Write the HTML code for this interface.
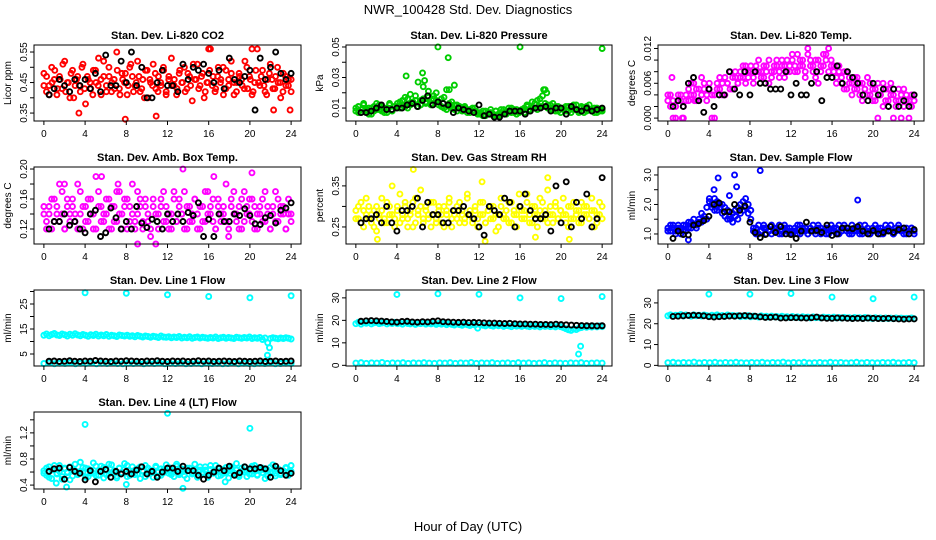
<!DOCTYPE html>
<html><head><meta charset="utf-8"><style>
html,body{margin:0;padding:0;background:#fff}
svg{display:block;font-family:"Liberation Sans",sans-serif}
</style></head><body>
<svg id="chart" width="936" height="540" viewBox="0 0 936 540" xmlns="http://www.w3.org/2000/svg">
<rect width="936" height="540" fill="#fff"/>
<text x="468" y="14" font-size="13" text-anchor="middle">NWR_100428  Std. Dev. Diagnostics</text>
<text x="468" y="531" font-size="13" text-anchor="middle">Hour of Day (UTC)</text>
</svg>
<script>
// ---- data ----
const co2A=[.48,.42,.44,.50,.46,.41,.47,.43,.52,.45,.40,.49,.44,.47,.42,.51,.38,.46,.43,.49,.45,.53,.41,.47,.44,.50,.42,.46,.55,.43,.48,.45,.41,.50,.47,.44,.52,.42,.46,.49,.40,.45,.51,.43,.47,.44,.49,.42,.46,.53,.44,.41,.48,.45,.50,.43,.47,.39,.46,.51,.44,.48,.42,.45,.56,.47,.43,.50,.46,.41,.49,.44,.52,.45,.42,.48,.46,.43,.50,.47,.41,.45,.56,.44,.49,.42,.46,.51,.43,.47,.45,.40,.48,.44,.46,.42];
const co2B=[.44,.47,.41,.45,.49,.43,.46,.51,.42,.45,.48,.40,.46,.44,.50,.43,.47,.45,.41,.49,.44,.46,.52,.42,.47,.45,.43,.49,.41,.46,.48,.44,.51,.42,.45,.47,.43,.40,.49,.46,.44,.48,.42,.45,.50,.41,.47,.44,.46,.43,.49,.45,.42,.48,.44,.51,.46,.43,.47,.40,.45,.49,.44,.42,.47,.45,.50,.43,.46,.48,.41,.45,.47,.44,.52,.43,.46,.42,.49,.45,.47,.44,.41,.48,.46,.43,.50,.45,.42,.47,.44,.46];
const co2OutH=[3.4,7.9,10.9,16,20.2,22.3,23.9];
const co2OutV=[.35,.33,.34,.56,.56,.36,.36];
const co2K=[.41,.43,.46,.44,.42,.46,.44,.46,.43,.48,.42,.54,.44,.44,.52,.45,.55,.44,.50,.40,.40,.45,.49,.44,.44,.42,.51,.46,.50,.49,.51,.48,.45,.49,.43,.53,.46,.45,.47,.49,.36,.53,.46,.50,.55,.48,.46,.48];

const presA=[.008,.011,.007,.012,.009,.006,.010,.008,.013,.009,.011,.007,.010,.012,.008,.011,.013,.010,.015,.011,.016,.012,.014,.018,.011,.015,.024,.013,.017,.012,.016,.020,.014,.011,.017,.009,.013,.010,.012,.008,.011,.009,.010,.007,.009,.008,.010,.006,.007,.005,.008,.006,.007,.005,.008,.006,.009,.007,.008,.010,.007,.009,.006,.008,.009,.007,.011,.008,.010,.013,.009,.016,.011,.022,.012,.009,.013,.008,.011,.007,.010,.008,.011,.007,.009,.012,.008,.010,.007,.011,.009,.008,.010,.007,.009,.008];
const presB=[.010,.007,.009,.013,.008,.010,.006,.011,.009,.012,.008,.010,.007,.013,.009,.011,.011,.014,.012,.017,.010,.019,.013,.015,.027,.012,.016,.014,.021,.013,.018,.015,.012,.016,.010,.022,.011,.014,.009,.012,.010,.008,.011,.009,.007,.010,.008,.007,.006,.008,.005,.007,.009,.006,.008,.005,.007,.009,.006,.008,.010,.007,.009,.007,.008,.010,.012,.009,.014,.010,.015,.011,.018,.013,.010,.012,.009,.011,.008,.010,.009,.011,.008,.010,.012,.009,.007,.011,.010,.008,.012,.009,.007,.010,.008,.009];
const presOutH=[8,9,16,24,4.9,6.5,6.7,9.6,9.1,18.3,18.6];
const presOutV=[.05,.043,.05,.049,.031,.033,.028,.025,.022,.022,.020];
const presK=[.007,.007,.008,.010,.012,.009,.009,.010,.010,.012,.013,.011,.015,.018,.012,.014,.013,.012,.007,.010,.009,.008,.007,.012,.005,.006,.004,.004,.006,.008,.008,.008,.006,.008,.010,.010,.011,.008,.010,.010,.006,.011,.009,.008,.010,.008,.009,.010];

const tempA=[.003,.004,0,.002,.003,.004,0,.003,.005,.004,.006,.003,.005,.004,.006,.003,.005,0,.004,.006,.005,.004,.007,.006,.005,.007,.008,.006,.007,.009,.006,.008,.009,.007,.008,.010,.008,.007,.009,.006,.008,.009,.010,.008,.009,.007,.010,.008,.011,.009,.008,.010,.009,.007,.011,.009,.008,.010,.006,.009,.011,.010,.012,.009,.008,.007,.009,.006,.008,.005,.007,.006,.005,.007,.004,.006,.005,.004,.006,.003,.005,0,.004,.006,.003,.005,.004,0,.003,.005,.004,.002,.003,0,.004,.003];
const tempB=[.004,.002,.003,0,.004,.003,.002,.004,.003,.006,.004,.005,.003,.007,.005,.004,.006,.004,0,.005,.007,.006,.004,.006,.008,.005,.007,.006,.008,.007,.009,.007,.008,.006,.009,.008,.007,.009,.008,.010,.007,.008,.009,.007,.010,.009,.008,.009,.010,.008,.011,.009,.010,.008,.012,.010,.009,.007,.010,.008,.009,.011,.008,.010,.009,.006,.008,.007,.005,.008,.006,.004,.007,.005,.006,.003,.005,.007,.004,.005,.003,.006,.004,.002,.005,.003,.006,.004,.002,.003,0,.005,.004,.003,.002,.004];
const tempOutH=[.4,1.4,2.6];
const tempOutV=[.007,0,.003];
const tempK=[.002,.003,.002,.006,.007,.003,.001,.005,.002,.004,.004,.008,.005,.004,.008,.004,.008,.006,.006,.005,.005,.005,.008,.004,.006,.004,.004,.006,.008,.003,.007,.007,.009,.006,.008,.007,.006,.004,.003,.006,.004,.005,.002,.005,.002,.003,.002,.004];

const ambA=[.14,.13,.15,.12,.16,.14,.13,.17,.12,.15,.14,.16,.13,.18,.14,.12,.15,.13,.16,.14,.12,.17,.15,.13,.14,.16,.12,.15,.13,.17,.14,.16,.12,.15,.18,.13,.14,.16,.12,.15,.13,.11,.16,.14,.12,.15,.17,.13,.14,.12,.16,.13,.15,.14,.17,.12,.15,.13,.16,.14,.12,.15,.13,.17,.14,.16,.12,.15,.13,.14,.18,.12,.16,.14,.13,.15,.12,.17,.14,.16,.13,.15,.12,.14,.16,.13,.15,.12,.14,.17,.13,.15,.14,.12,.16,.14];
const ambB=[.15,.12,.14,.16,.13,.15,.18,.14,.12,.16,.13,.15,.14,.12,.17,.15,.13,.16,.14,.12,.19,.15,.13,.14,.16,.12,.15,.13,.17,.14,.12,.15,.16,.13,.14,.12,.17,.15,.13,.16,.14,.12,.15,.10,.14,.16,.13,.15,.12,.14,.17,.13,.16,.14,.12,.15,.13,.14,.16,.12,.15,.13,.17,.14,.15,.13,.12,.16,.14,.15,.13,.11,.15,.17,.14,.12,.16,.13,.15,.14,.16,.12,.14,.15,.13,.17,.14,.12,.15,.13,.16,.14,.15,.12,.14,.13];
const ambOutH=[2,5.6,13.5,16.5,20.2,7.2,9.1];
const ambOutV=[.18,.19,.2,.19,.195,.18,.10];
const ambK=[.12,.13,.13,.14,.125,.13,.12,.115,.14,.145,.11,.115,.148,.135,.12,.13,.12,.15,.128,.122,.133,.13,.12,.14,.13,.14,.13,.142,.138,.155,.11,.133,.11,.14,.13,.13,.14,.138,.147,.138,.127,.126,.135,.138,.128,.145,.148,.155];

const rhA=[.29,.27,.31,.25,.28,.30,.26,.29,.24,.28,.32,.27,.26,.30,.28,.25,.29,.33,.27,.30,.25,.28,.31,.26,.29,.34,.27,.30,.28,.25,.31,.27,.29,.26,.30,.28,.32,.25,.29,.27,.31,.28,.26,.33,.29,.27,.30,.25,.28,.31,.26,.29,.27,.30,.24,.28,.32,.27,.29,.26,.31,.28,.25,.30,.27,.29,.33,.26,.30,.28,.25,.29,.31,.27,.34,.28,.26,.30,.27,.29,.32,.28,.25,.30,.27,.29,.26,.31,.28,.30,.27,.29,.25,.28,.31,.27];
const rhB=[.27,.30,.26,.29,.32,.27,.28,.25,.30,.27,.29,.26,.31,.28,.35,.27,.30,.26,.28,.31,.27,.29,.25,.32,.28,.30,.26,.29,.27,.31,.28,.26,.30,.28,.25,.29,.31,.27,.28,.30,.26,.29,.27,.32,.28,.26,.29,.27,.31,.28,.26,.29,.30,.27,.28,.25,.30,.28,.27,.31,.26,.29,.28,.33,.29,.27,.31,.28,.26,.30,.28,.32,.27,.29,.26,.30,.28,.31,.27,.29,.28,.26,.30,.27,.31,.28,.29,.26,.30,.28,.27,.32,.29,.26,.28,.30];
const rhOutH=[5.6,12.3,18.7,2.1,20.8,12.6,17.5];
const rhOutV=[.39,.36,.37,.22,.22,.215,.225];
const rhK=[.26,.27,.27,.28,.26,.30,.26,.24,.29,.29,.30,.32,.25,.31,.28,.28,.26,.26,.29,.29,.30,.28,.27,.25,.23,.30,.29,.28,.32,.31,.25,.30,.33,.29,.27,.27,.28,.24,.35,.26,.36,.25,.31,.27,.33,.25,.27,.37];

const sfA=[1.2,1.1,1.3,1.1,1.2,1.0,1.3,1.1,1.2,1.4,1.3,1.2,1.5,1.4,1.6,1.5,2.1,1.9,2.2,1.8,2.0,1.7,1.9,1.5,1.6,1.4,1.8,1.5,1.7,2.1,1.9,2.0,1.8,1.2,1.0,1.3,1.1,1.2,1.0,1.1,1.3,1.1,1.2,1.0,1.1,1.3,1.2,1.0,1.1,1.2,1.0,1.3,1.1,1.2,1.0,1.1,1.3,1.1,1.2,1.0,1.1,1.2,1.0,1.3,1.1,1.2,1.0,1.1,1.3,1.2,1.1,1.0,1.2,1.1,1.3,1.0,1.1,1.2,1.0,1.1,1.3,1.1,1.2,1.0,1.1,1.2,1.3,1.0,1.1,1.2,1.1,1.0,1.2,1.1,1.2,1.0];
const sfB=[1.1,1.3,1.2,1.0,1.3,1.2,1.1,1.3,1.4,1.2,1.5,1.3,1.4,1.7,1.5,1.9,2.2,2.0,1.8,2.1,1.9,2.0,1.6,1.8,1.5,1.7,1.6,1.9,2.0,1.8,2.2,1.7,1.5,1.1,1.2,1.0,1.1,1.3,1.2,1.1,1.0,1.2,1.1,1.3,1.0,1.2,1.1,1.2,1.0,1.1,1.3,1.0,1.2,1.1,1.0,1.2,1.1,1.0,1.3,1.2,1.1,1.0,1.2,1.1,1.2,1.0,1.3,1.1,1.2,1.1,1.0,1.3,1.1,1.2,1.0,1.1,1.3,1.1,1.0,1.2,1.1,1.2,1.0,1.1,1.3,1.2,1.1,1.0,1.2,1.3,1.1,1.2,1.0,1.1,1.2,1.1];
const sfOutH=[4.5,4.9,6.5,6.7,6.0,9.0,18.5,2.0];
const sfOutV=[2.5,2.9,3.0,2.6,2.3,3.15,2.15,0.8];
const sfK=[0.85,1.1,0.98,0.97,1.3,1.35,1.45,1.6,2.0,2.05,1.75,1.75,2.0,1.8,1.95,1.4,1.05,0.88,0.98,1.25,1.05,1.25,1.0,0.98,0.85,1.1,1.4,1.1,1.12,1.05,1.3,0.95,1.0,1.2,1.2,1.18,1.25,1.1,1.0,1.12,1.0,1.05,1.1,1.05,1.15,1.2,1.0,1.15];

const l1Hi=[12.5,13,12.3,12.8,13.2,12.6,12.4,13,12.7,12.2,12.9,12.5,13.1,12.6,12.3,12.8,12.5,12.1,12.7,12.4,12.9,12.2,12.6,12.3,12.8,12.1,12.5,12.3,12,12.6,12.4,12.2,12.5,12.1,12.3,11.9,12.4,12.1,11.8,12.2,12,11.7,12.1,11.9,11.6,12.2,11.8,11.7,11.9,11.5,11.8,11.6,12,11.4,11.7,11.5,11.9,11.3,11.6,11.8,11.4,11.7,11.5,11.3,11.6,11.4,11.8,11.2,11.5,11.7,11.3,11.6,11.4,11.2,11.7,11.5,11.3,11.6,11.4,11.8,11.2,11.5,11.3,11.6,10.8,11.4,9.5,11.2,11.5,11.3,11.1,11.4,11.2,11.5,11.3,11];
const l1Lo=[1.2,1.4,1.1,1.3,1.2,1.5,1.1,1.3,1.2,1.4,1.1,1.3,1.2,1.4,1.2,1.1,1.3,1.2,1.4,1.1,1.3,1.2,1.5,1.1,1.3,1.2,1.4,1.1,1.2,1.3,1.1,1.4,1.2,1.3,1.1,1.2,1.4,1.1,1.3,1.2,1.1,1.3,1.2,1.4,1.1,1.2,1.3,1.2];
const l1OutH=[4,8,12,16,20,24,21.7,21.9];
const l1OutV=[29.5,29.3,28.7,28,27.5,28.3,4.5,7.5];
const l1K=[2.1,2.2,2.0,2.1,2.3,2.1,2.0,2.2,2.1,2.4,2.2,2.1,2.0,2.2,2.1,2.3,2.2,2.1,2.0,2.2,2.1,2.3,2.1,2.0,2.2,2.1,2.2,2.0,2.1,2.3,2.1,2.2,2.0,2.1,2.2,2.1,2.0,2.2,2.1,2.0,2.1,2.2,2.0,2.1,2.2,2.0,2.1,2.2];

const l2Hi=[18.5,19.2,18.3,19,18.7,19.3,18.4,18.9,19.1,18.5,18.8,19.2,18.4,18.9,18.6,19.1,18.5,18.8,18.3,19,18.6,18.4,18.9,18.2,18.7,18.5,18.9,18.3,18.7,18.4,18.8,18.2,18.6,18.3,18.7,18.1,18.5,18.2,17.9,18.4,18.1,17.8,18.3,18,17.7,18.2,17.9,16.5,18.1,17.8,17.5,18,17.7,17.4,17.9,17.6,17.8,17.3,17.7,17.5,17.2,17.8,17.4,17.6,17.3,17.7,17.4,17.2,17.6,17.3,17.5,17.1,17.6,17.3,17.5,17.2,17.4,17.1,17.5,17.2,16.8,16.3,15.8,15.5,16.2,15.9,16.5,16.8,17.2,16.9,17.3,17,17.4,17.1,17.5,17.2];
const l2Lo=[1.0,1.2,0.9,1.1,1.0,1.3,0.9,1.1,1.0,1.2,0.9,1.1,1.0,1.2,1.0,0.9,1.1,1.0,1.2,0.9,1.1,1.0,1.3,0.9,1.1,1.0,1.2,0.9,1.0,1.1,0.9,1.2,1.0,1.1,0.9,1.0,1.2,0.9,1.1,1.0,0.9,1.1,1.0,1.2,0.9,1.0,1.1,1.0];
const l2OutH=[4,8,12,16,20,24,21.7,21.9];
const l2OutV=[31.5,31.8,31.6,30,29.7,30.6,5,8.5];
const l2K=[19.6,19.8,19.9,19.8,19.7,19.5,19.3,19.2,19.5,19.6,19.3,19.2,19.4,19.3,19.6,19.8,19.4,19.3,19.2,19.1,19.2,19.0,19.1,19.0,18.9,18.8,18.8,18.7,18.6,18.7,18.5,18.4,18.4,18.3,18.3,18.2,18.2,18.1,18.3,18.1,18.0,17.9,17.8,17.7,17.6,17.6,17.5,17.6];

const l3Hi=[23.8,24.3,23.6,24.1,23.9,24.4,23.7,24.2,24,23.6,24.3,23.8,24.1,23.7,24.2,23.9,23.6,24.1,23.8,24.3,23.7,24,23.5,24.2,23.8,24,23.6,23.9,23.4,23.8,23.5,23.9,23.3,23.7,23.5,23.2,23.8,23.4,23.6,23.2,23.7,23.3,23.5,23.1,23.6,23.2,23.4,23,23.5,23.1,23.3,22.9,23.4,23,23.2,22.8,23.3,22.9,23.1,22.8,23.2,22.9,23.1,22.7,23.2,22.8,23,22.7,23.1,22.8,22.9,22.6,23,22.7,22.9,22.6,23,22.7,22.8,22.5,22.9,22.6,22.8,22.4,22.8,22.5,22.7,22.4,22.8,22.5,22.7,22.4,22.6,22.5,22.8,22.4];
const l3Lo=[1.3,1.5,1.2,1.4,1.3,1.6,1.2,1.4,1.3,1.5,1.2,1.4,1.3,1.5,1.3,1.2,1.4,1.3,1.5,1.2,1.4,1.3,1.6,1.2,1.4,1.3,1.5,1.2,1.3,1.4,1.2,1.5,1.3,1.4,1.2,1.3,1.5,1.2,1.4,1.3,1.2,1.4,1.3,1.5,1.2,1.3,1.4,1.3];
const l3OutH=[4,8,12,16,20,24];
const l3OutV=[34.2,34.2,34.5,32.8,32,32.8];
const l3K=[23.5,23.6,23.8,24.0,24.1,24.0,23.8,23.4,23.2,23.4,23.5,23.7,23.6,23.8,23.9,23.7,23.6,23.3,23.0,23.1,23.2,22.7,22.8,22.9,22.9,22.8,22.7,22.9,23.2,22.8,22.6,22.6,22.8,22.7,22.6,22.5,22.6,22.5,22.7,22.6,22.5,22.5,22.6,22.4,22.3,22.2,22.3,22.3];

const l4A=[.62,.55,.68,.50,.64,.58,.70,.53,.66,.60,.48,.63,.72,.56,.61,.67,.52,.65,.58,.74,.55,.62,.69,.51,.64,.57,.71,.60,.54,.66,.59,.73,.53,.62,.68,.56,.65,.50,.61,.70,.57,.63,.52,.67,.60,.55,.64,.71,.58,.62,.53,.69,.56,.65,.61,.50,.66,.59,.72,.55,.63,.57,.68,.52,.64,.60,.70,.54,.62,.58,.67,.51,.65,.59,.73,.56,.61,.68,.53,.64,.57,.70,.55,.62,.66,.50,.63,.59,.71,.54,.65,.58,.61,.67,.55,.70];
const l4B=[.58,.66,.52,.63,.70,.57,.61,.49,.65,.59,.68,.54,.62,.57,.75,.60,.66,.53,.63,.58,.69,.55,.61,.67,.56,.72,.59,.62,.51,.66,.58,.64,.70,.55,.60,.63,.57,.68,.62,.53,.66,.58,.61,.69,.54,.65,.59,.62,.67,.56,.63,.72,.58,.60,.55,.66,.62,.57,.64,.52,.68,.60,.63,.56,.70,.58,.61,.66,.55,.64,.59,.62,.68,.57,.63,.53,.66,.60,.62,.57,.69,.61,.56,.65,.59,.63,.54,.67,.60,.58,.64,.56,.62,.66,.59,.61];
const l4OutH=[4,12,20,2.2,13.5,1.2,8,17.6];
const l4OutV=[1.33,1.5,1.27,0.37,0.35,0.43,0.41,0.45];
const l4K=[.61,.65,.66,.49,.67,.61,.58,.48,.62,.45,.61,.64,.52,.61,.57,.61,.57,.63,.68,.57,.61,.52,.60,.66,.66,.61,.69,.62,.62,.55,.49,.55,.60,.66,.62,.69,.55,.59,.68,.65,.65,.67,.65,.52,.69,.62,.55,.58];

// ---- layout ----
const COLS=[[34,301],[346,612],[658,924]];
const ROWS=[[45,121],[167,244],[290,366],[412,489]];
const panels=[
 {name:'co2',title:'Stan. Dev. Li-820 CO2',yl:'Licor ppm',c:0,r:0,dom:[0.324,0.573],ticks:[.35,.40,.45,.50,.55],labs:[.35,.45,.55],dec:2,col:'#ff0000',series:[co2A,co2B],outH:co2OutH,outV:co2OutV,k:co2K},
 {name:'pressure',title:'Stan. Dev. Li-820 Pressure',yl:'kPa',c:1,r:0,dom:[0.0015,0.0513],ticks:[.01,.02,.03,.04,.05],labs:[.01,.03,.05],dec:2,col:'#00cd00',series:[presA,presB],outH:presOutH,outV:presOutV,k:presK},
 {name:'li820-temp',title:'Stan. Dev. Li-820 Temp.',yl:'degrees C',c:2,r:0,dom:[-0.0005,0.0126],ticks:[0,.002,.004,.006,.008,.010,.012],labs:[0,.006,.012],dec:3,col:'#ff00ff',series:[tempA,tempB],outH:tempOutH,outV:tempOutV,k:tempK},
 {name:'amb-box-temp',title:'Stan. Dev. Amb. Box Temp.',yl:'degrees C',c:0,r:1,dom:[0.10,0.2027],ticks:[.12,.14,.16,.18,.20],labs:[.12,.16,.20],dec:2,col:'#ff00ff',series:[ambA,ambB],outH:ambOutH,outV:ambOutV,k:ambK},
 {name:'gas-stream-rh',title:'Stan. Dev. Gas Stream RH',yl:'percent',c:1,r:1,dom:[0.2085,0.396],ticks:[.25,.30,.35],labs:[.25,.35],dec:2,col:'#ffff00',series:[rhA,rhB],outH:rhOutH,outV:rhOutV,k:rhK},
 {name:'sample-flow',title:'Stan. Dev. Sample Flow',yl:'ml/min',c:2,r:1,dom:[0.66,3.27],ticks:[1,1.5,2,2.5,3],labs:[1,2,3],dec:1,col:'#0000ff',series:[sfA,sfB],outH:sfOutH,outV:sfOutV,k:sfK},
 {name:'line1-flow',title:'Stan. Dev. Line 1 Flow',yl:'ml/min',c:0,r:2,dom:[0.2,30.6],ticks:[5,10,15,20,25,30],labs:[5,15,25],dec:0,col:'#00ffff',series:[l1Hi,l1Lo],outH:l1OutH,outV:l1OutV,k:l1K},
 {name:'line2-flow',title:'Stan. Dev. Line 2 Flow',yl:'ml/min',c:1,r:2,dom:[-0.3,33.5],ticks:[0,10,20,30],labs:[0,10,20,30],dec:0,col:'#00ffff',series:[l2Hi,l2Lo],outH:l2OutH,outV:l2OutV,k:l2K},
 {name:'line3-flow',title:'Stan. Dev. Line 3 Flow',yl:'ml/min',c:2,r:2,dom:[-0.3,36.2],ticks:[0,10,20,30],labs:[0,10,20,30],dec:0,col:'#00ffff',series:[l3Hi,l3Lo],outH:l3OutH,outV:l3OutV,k:l3K},
 {name:'line4-flow',title:'Stan. Dev. Line 4 (LT) Flow',yl:'ml/min',c:0,r:3,dom:[0.34,1.52],ticks:[.4,.6,.8,1.0,1.2,1.4],labs:[.4,.8,1.2],dec:1,col:'#00ffff',series:[l4A,l4B],outH:l4OutH,outV:l4OutV,k:l4K}
];
const XT=[0,4,8,12,16,20,24];
const NS='http://www.w3.org/2000/svg';
const svg=document.getElementById('chart');
function mk(tag,attrs,parent){const e=document.createElementNS(NS,tag);for(const k in attrs)e.setAttribute(k,attrs[k]);parent.appendChild(e);return e;}

panels.forEach(p=>{
 const [x0,x1]=COLS[p.c],[y0,y1]=ROWS[p.r];
 const xs=h=>x0+(h+0.96)/25.92*(x1-x0);
 const ys=v=>y1-(v-p.dom[0])/(p.dom[1]-p.dom[0])*(y1-y0);
 const g=mk('g',{},svg);
 
 
 const t=mk('text',{x:(x0+x1)/2,y:y0-6,'font-size':11,'font-weight':'bold','text-anchor':'middle'},g);
 t.textContent=p.title;
 
 
 const yl=mk('text',{x:0,y:0,'font-size':10,'text-anchor':'middle',transform:`translate(${x0-23},${(y0+y1)/2}) rotate(-90)`},g);
 yl.textContent=p.yl;
 
 
 const pts=mk('g',{fill:'none','stroke-width':1.9},g);
 
 
 p.series.forEach(arr=>{arr.forEach((v,i)=>{
  const c=mk('circle',{cx:xs(i*24/(arr.length-1)),cy:ys(v),r:2.5,stroke:p.col},pts);
  
  
 });});
 p.outH.forEach((h,i)=>{
  const c=mk('circle',{cx:xs(h),cy:ys(p.outV[i]),r:2.5,stroke:p.col},pts);
  
  
 });
 p.k.forEach((v,i)=>{
  const c=mk('circle',{cx:xs(0.5+i*0.5),cy:ys(v),r:2.5,stroke:'#000'},pts);
  
  
 });
 const b=mk('rect',{x:x0,y:y0,width:x1-x0,height:y1-y0,fill:'none',stroke:'#000','stroke-width':1},g);
 
 
 XT.forEach(h=>{
  mk('line',{x1:xs(h),x2:xs(h),y1:y1,y2:y1+4,stroke:'#000'},g);
  const tx=mk('text',{x:xs(h),y:y1+16,'font-size':10,'text-anchor':'middle'},g);
  tx.textContent=h;
  
  
 });
 p.ticks.forEach(v=>{mk('line',{x1:x0-4,x2:x0,y1:ys(v),y2:ys(v),stroke:'#000'},g);});
 p.labs.forEach(v=>{
  const ty=mk('text',{x:0,y:0,'font-size':10,'text-anchor':'middle',transform:`translate(${x0-7},${ys(v)}) rotate(-90)`},g);
  ty.textContent=v.toFixed(p.dec);
  
  
 });
});
</script>
</body></html>
